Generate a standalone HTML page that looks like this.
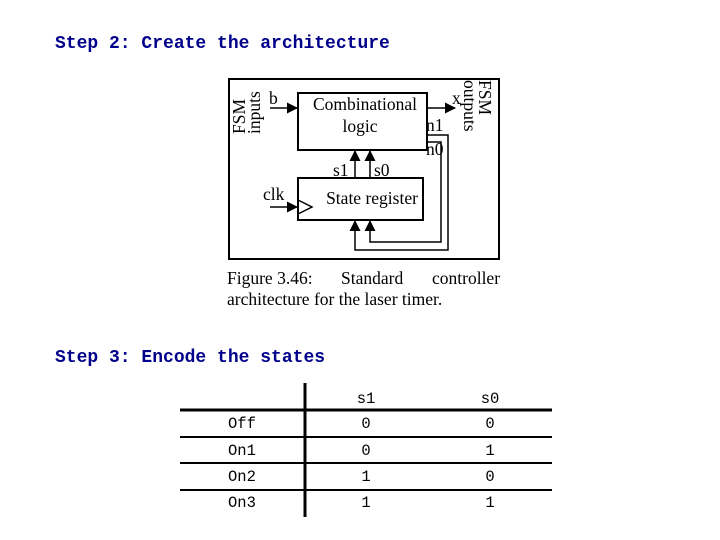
<!DOCTYPE html>
<html><head><style>
html,body{margin:0;padding:0;background:#fff;}
body{width:720px;height:540px;position:relative;overflow:hidden;}
.h{position:absolute;left:55px;font:bold 18px "Liberation Mono",monospace;color:#00008b;white-space:pre;line-height:1;}
</style></head><body>
<div class="h" style="top:35px">Step 2: Create the architecture</div>
<div class="h" style="top:349px">Step 3: Encode the states</div>
<svg width="720" height="540" style="position:absolute;left:0;top:0" xmlns="http://www.w3.org/2000/svg">
<defs><marker id="a" markerWidth="11" markerHeight="11" refX="10" refY="5.5" orient="auto" markerUnits="userSpaceOnUse"><path d="M0,0 L11,5.5 L0,11z" fill="#000"/></marker></defs>
<g fill="none" stroke="#000" stroke-width="2">
<rect x="229" y="79" width="270" height="180"/>
<rect x="298" y="93" width="129" height="57"/>
<rect x="298" y="178" width="125" height="42"/>
</g>
<g stroke="#000" stroke-width="1.5" fill="none">
<line x1="270" y1="108" x2="297" y2="108" marker-end="url(#a)"/>
<line x1="427" y1="108" x2="455" y2="108" marker-end="url(#a)"/>
<line x1="270" y1="207" x2="297" y2="207" marker-end="url(#a)"/>
<line x1="355" y1="178" x2="355" y2="151" marker-end="url(#a)"/>
<line x1="370" y1="178" x2="370" y2="151" marker-end="url(#a)"/>
<polyline points="427,135 448,135 448,250 355,250 355,221" marker-end="url(#a)"/>
<polyline points="427,142 441,142 441,242 370,242 370,221" marker-end="url(#a)"/>
<polyline points="298,200 312,207 298,214"/>
</g>
<g font-family="Liberation Serif,serif" font-size="17.5" fill="#000">
<text x="365" y="110" text-anchor="middle">Combinational</text>
<text x="360" y="132" text-anchor="middle">logic</text>
<text x="372" y="204" text-anchor="middle">State register</text>
<text x="269" y="104">b</text>
<text x="452" y="104">x</text>
<text x="426" y="131">n1</text>
<text x="426" y="155">n0</text>
<text x="333" y="176">s1</text>
<text x="374" y="176">s0</text>
<text x="263" y="200">clk</text>
<text transform="translate(245,134) rotate(-90)">FSM</text>
<text transform="translate(260,134) rotate(-90)">inputs</text>
<text transform="translate(479,80) rotate(90)">FSM</text>
<text transform="translate(464,80) rotate(90)">outputs</text>
<text x="227" y="284">Figure 3.46:</text>
<text x="341" y="284">Standard</text>
<text x="432" y="284">controller</text>
<text x="227" y="305">architecture for the laser timer.</text>
</g>
<g stroke="#000" stroke-width="3">
<line x1="305" y1="383" x2="305" y2="517"/>
<line x1="180" y1="410" x2="552" y2="410"/>
</g>
<g stroke="#000" stroke-width="2">
<line x1="180" y1="437" x2="552" y2="437"/>
<line x1="180" y1="463" x2="552" y2="463"/>
<line x1="180" y1="490" x2="552" y2="490"/>
</g>
<g font-family="Liberation Mono,monospace" font-size="15.5" fill="#000">
<text x="366" y="403" text-anchor="middle">s1</text><text x="490" y="403" text-anchor="middle">s0</text>
<text x="228" y="428">Off</text><text x="366" y="428" text-anchor="middle">0</text><text x="490" y="428" text-anchor="middle">0</text>
<text x="228" y="455">On1</text><text x="366" y="455" text-anchor="middle">0</text><text x="490" y="455" text-anchor="middle">1</text>
<text x="228" y="481">On2</text><text x="366" y="481" text-anchor="middle">1</text><text x="490" y="481" text-anchor="middle">0</text>
<text x="228" y="507">On3</text><text x="366" y="507" text-anchor="middle">1</text><text x="490" y="507" text-anchor="middle">1</text>
</g>
</svg>
</body></html>
